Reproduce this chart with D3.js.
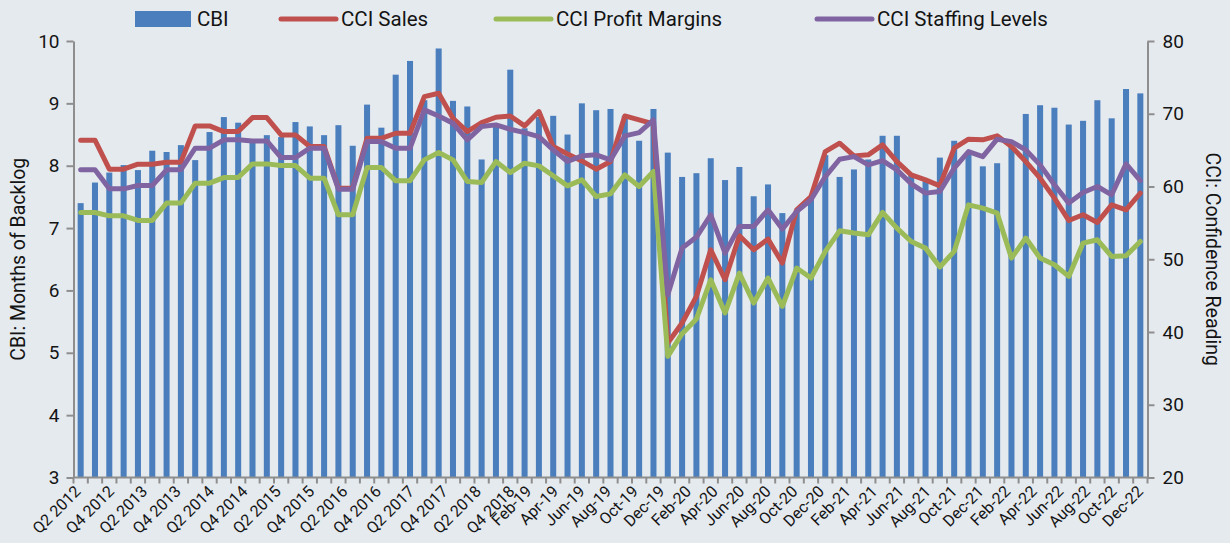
<!DOCTYPE html>
<html>
<head>
<meta charset="utf-8">
<script src="https://cdn.jsdelivr.net/npm/d3@7"></script>
<style>
  html, body { margin: 0; padding: 0; background: #E5EAEF; }
  svg { display: block; }
  text { font-family: Roboto, "Open Sans", sans-serif; fill: #141414; }
</style>
</head>
<body>
<svg id="chart" width="1230" height="543"></svg>
<script>
// Categories: quarterly through Q4 2018, then monthly
const categories = [
  "Q2 2012","Q3 2012","Q4 2012","Q1 2013","Q2 2013","Q3 2013","Q4 2013",
  "Q1 2014","Q2 2014","Q3 2014","Q4 2014","Q1 2015","Q2 2015","Q3 2015","Q4 2015",
  "Q1 2016","Q2 2016","Q3 2016","Q4 2016","Q1 2017","Q2 2017","Q3 2017","Q4 2017",
  "Q1 2018","Q2 2018","Q3 2018","Q4 2018",
  "Jan-19","Feb-19","Mar-19","Apr-19","May-19","Jun-19","Jul-19","Aug-19","Sep-19","Oct-19","Nov-19","Dec-19",
  "Jan-20","Feb-20","Mar-20","Apr-20","May-20","Jun-20","Jul-20","Aug-20","Sep-20","Oct-20","Nov-20","Dec-20",
  "Jan-21","Feb-21","Mar-21","Apr-21","May-21","Jun-21","Jul-21","Aug-21","Sep-21","Oct-21","Nov-21","Dec-21",
  "Jan-22","Feb-22","Mar-22","Apr-22","May-22","Jun-22","Jul-22","Aug-22","Sep-22","Oct-22","Nov-22","Dec-22"
];

// Axis labels shown under the chart
const tickLabels = [
  "Q2 2012","Q4 2012","Q2 2013","Q4 2013","Q2 2014","Q4 2014","Q2 2015","Q4 2015",
  "Q2 2016","Q4 2016","Q2 2017","Q4 2017","Q2 2018","Q4 2018",
  "Feb-19","Apr-19","Jun-19","Aug-19","Oct-19","Dec-19",
  "Feb-20","Apr-20","Jun-20","Aug-20","Oct-20","Dec-20",
  "Feb-21","Apr-21","Jun-21","Aug-21","Oct-21","Dec-21",
  "Feb-22","Apr-22","Jun-22","Aug-22","Oct-22","Dec-22"
];

// Construction Backlog Indicator (months)
const cbi = [
  7.40,7.73,7.89,8.01,7.93,8.24,8.22,8.33,8.09,8.54,8.78,8.69,8.38,8.49,8.46,
  8.70,8.63,8.49,8.65,8.32,8.98,8.61,9.46,9.68,9.05,9.88,9.04,
  8.95,8.10,8.65,9.54,8.60,8.78,8.80,8.50,9.00,8.89,8.91,8.80,
  8.40,8.91,8.21,7.82,7.88,8.12,7.77,7.98,7.51,7.70,7.24,7.28,
  7.50,8.17,7.82,7.94,8.10,8.48,8.48,7.85,7.75,8.13,8.40,8.22,
  7.99,8.04,8.30,8.83,8.97,8.93,8.66,8.72,9.05,8.76,9.23,9.16
];

// Construction Confidence Index readings
const cciSales = [
  66.37,66.37,62.38,62.38,63.07,63.07,63.34,63.34,68.33,68.33,67.55,67.55,69.47,69.47,67.09,
  67.09,65.49,65.49,59.77,59.77,66.63,66.63,67.32,67.32,72.35,72.81,69.38,
  67.55,68.78,69.52,69.70,68.33,70.30,65.49,64.48,63.52,62.38,63.43,69.70,
  69.15,68.60,38.49,41.24,44.90,51.30,47.18,53.23,51.30,52.77,49.48,56.80,
  58.62,64.80,65.95,64.21,64.35,65.72,63.43,61.60,60.91,60.09,65.27,66.50,
  66.41,66.96,65.49,63.43,61.14,58.40,55.33,56.11,55.06,57.48,56.80,59.09
];
const cciProfit = [
  56.43,56.43,55.97,55.97,55.33,55.33,57.72,57.72,60.46,60.46,61.23,61.23,63.11,63.11,62.88,
  62.88,61.14,61.14,56.11,56.11,62.61,62.61,60.78,60.78,63.66,64.66,63.66,
  60.69,60.55,63.43,61.92,63.20,62.84,61.47,60.09,60.91,58.62,58.99,61.60,
  60.00,62.06,36.65,39.77,41.79,47.18,42.61,48.10,43.98,47.42,43.52,48.79,
  47.42,51.08,53.91,53.60,53.36,56.43,54.28,52.44,51.53,48.93,51.08,57.48,
  57.02,56.34,50.16,52.91,50.16,49.24,47.64,52.22,52.68,50.38,50.48,52.44
];
const cciStaffing = [
  62.29,62.29,59.68,59.68,60.13,60.13,62.29,62.29,65.27,65.27,66.41,66.41,66.27,66.27,63.98,
  63.98,65.27,65.27,59.63,59.63,66.17,66.17,65.27,65.27,70.53,69.70,68.69,
  66.41,68.24,68.47,67.87,67.41,66.86,65.03,63.43,64.21,64.35,63.66,66.96,
  67.41,69.15,45.12,51.53,53.05,56.11,50.85,54.51,54.51,56.80,54.15,56.57,
  58.17,61.37,63.75,64.11,62.97,63.56,62.29,60.37,59.09,59.31,62.52,64.80,
  64.11,66.50,66.17,65.03,62.97,60.23,57.72,59.18,60.00,58.86,63.11,60.82
];

const leftTicks = [3,4,5,6,7,8,9,10];
const rightTicks = [20,30,40,50,60,70,80];
const seriesNames = ["CBI","CCI Sales","CCI Profit Margins","CCI Staffing Levels"];
const colors = { bar: "#4A7EBD", sales: "#C0504D", profit: "#9BBB59", staffing: "#8064A2" };

const svg = d3.select("#chart");
const W = 1230, H = 543;
const plot = { left: 73.5, right: 1147.5, top: 41, bottom: 477.5 };
const axisColor = "#8E8E8E";

svg.append("rect").attr("width", W).attr("height", H).attr("fill", "#E5EAEF");

const x = d3.scaleBand().domain(categories).range([plot.left, plot.right]).paddingInner(0).paddingOuter(0);
const yL = d3.scaleLinear().domain([3, 10]).range([plot.bottom, plot.top]);
const yR = d3.scaleLinear().domain([20, 80]).range([plot.bottom, plot.top]);
const cx = c => x(c) + x.bandwidth() / 2;
const atIndex = k => plot.left + (k + 0.5) * x.step();

// Bars
const barW = x.bandwidth() * 0.42;
svg.append("g").selectAll("rect").data(cbi).join("rect")
  .attr("x", (d, i) => cx(categories[i]) - barW / 2)
  .attr("y", d => yL(d))
  .attr("width", barW)
  .attr("height", d => yL(3) - yL(d))
  .attr("fill", colors.bar);

// Lines
const line = d3.line()
  .x((d, i) => cx(categories[i]))
  .y(d => yR(d));
const lineOrder = [[cciSales, colors.sales], [cciProfit, colors.profit], [cciStaffing, colors.staffing]];
lineOrder.forEach(([vals, c]) => {
  svg.append("path").datum(vals)
    .attr("d", line)
    .attr("fill", "none")
    .attr("stroke", c)
    .attr("stroke-width", 5)
    .attr("stroke-linejoin", "round")
    .attr("stroke-linecap", "round");
});

// Axes
function styleAxis(g) {
  g.selectAll(".domain").attr("stroke", axisColor).attr("stroke-width", 2);
  g.selectAll(".tick line").attr("stroke", axisColor).attr("stroke-width", 2);
}

const gl = svg.append("g").attr("transform", `translate(${plot.left},0)`)
  .call(d3.axisLeft(yL).tickValues(leftTicks).tickSize(7).tickSizeOuter(0).tickPadding(7).tickFormat(d3.format("d")));
styleAxis(gl);
gl.selectAll(".tick text").attr("font-size", 19).attr("fill", "#141414");

const gr = svg.append("g").attr("transform", `translate(${plot.right},0)`)
  .call(d3.axisRight(yR).tickValues(rightTicks).tickSize(7).tickSizeOuter(0).tickPadding(8).tickFormat(d3.format("d")));
styleAxis(gr);
gr.selectAll(".tick text").attr("font-size", 19).attr("fill", "#141414");

// Bottom axis: tick marks on category boundaries
const gb = svg.append("g").attr("transform", `translate(0,${plot.bottom})`);
gb.append("line").attr("x1", plot.left).attr("x2", plot.right).attr("stroke", axisColor).attr("stroke-width", 2);
gb.selectAll("line.tk").data(d3.range(categories.length + 1)).join("line")
  .attr("class", "tk")
  .attr("x1", i => plot.left + i * x.step()).attr("x2", i => plot.left + i * x.step())
  .attr("y1", 0).attr("y2", 6)
  .attr("stroke", axisColor).attr("stroke-width", 2);

// Rotated labels: quarterly labels are spread wider than the monthly ones
const labelPos = d3.scaleLinear()
  .domain([0, 13, 14, tickLabels.length - 1])
  .range([0, 30.3, 31.5, 74.2].map(atIndex));
gb.selectAll("text").data(tickLabels).join("text")
  .attr("transform", (d, i) => `translate(${labelPos(i) - 3},${11}) rotate(-45)`)
  .attr("text-anchor", "end")
  .attr("dy", "0.35em")
  .attr("font-size", 16)
  .text(d => d);

// Axis titles
svg.append("text")
  .attr("transform", `translate(25,${(plot.top + plot.bottom) / 2}) rotate(-90)`)
  .attr("text-anchor", "middle").attr("font-size", 19.5)
  .text("CBI: Months of Backlog");
svg.append("text")
  .attr("transform", `translate(1206,${(plot.top + plot.bottom) / 2}) rotate(90)`)
  .attr("text-anchor", "middle").attr("font-size", 19.5)
  .text("CCI: Confidence Reading");

// Legend
const legend = svg.append("g");
const legendItems = [
  { name: seriesNames[0], type: "bar", color: colors.bar, x: 135 },
  { name: seriesNames[1], type: "line", color: colors.sales, x: 279 },
  { name: seriesNames[2], type: "line", color: colors.profit, x: 494 },
  { name: seriesNames[3], type: "line", color: colors.staffing, x: 815 }
];
legendItems.forEach(it => {
  if (it.type === "bar") {
    legend.append("rect").attr("x", it.x).attr("y", 11).attr("width", 56).attr("height", 16).attr("fill", it.color);
  } else {
    legend.append("line").attr("x1", it.x + 2).attr("x2", it.x + 57).attr("y1", 19).attr("y2", 19)
      .attr("stroke", it.color).attr("stroke-width", 5).attr("stroke-linecap", "round");
  }
  legend.append("text").attr("x", it.x + 62).attr("y", 19).attr("dy", "0.35em")
    .attr("font-size", 20.5).text(it.name);
});
</script>
</body>
</html>
